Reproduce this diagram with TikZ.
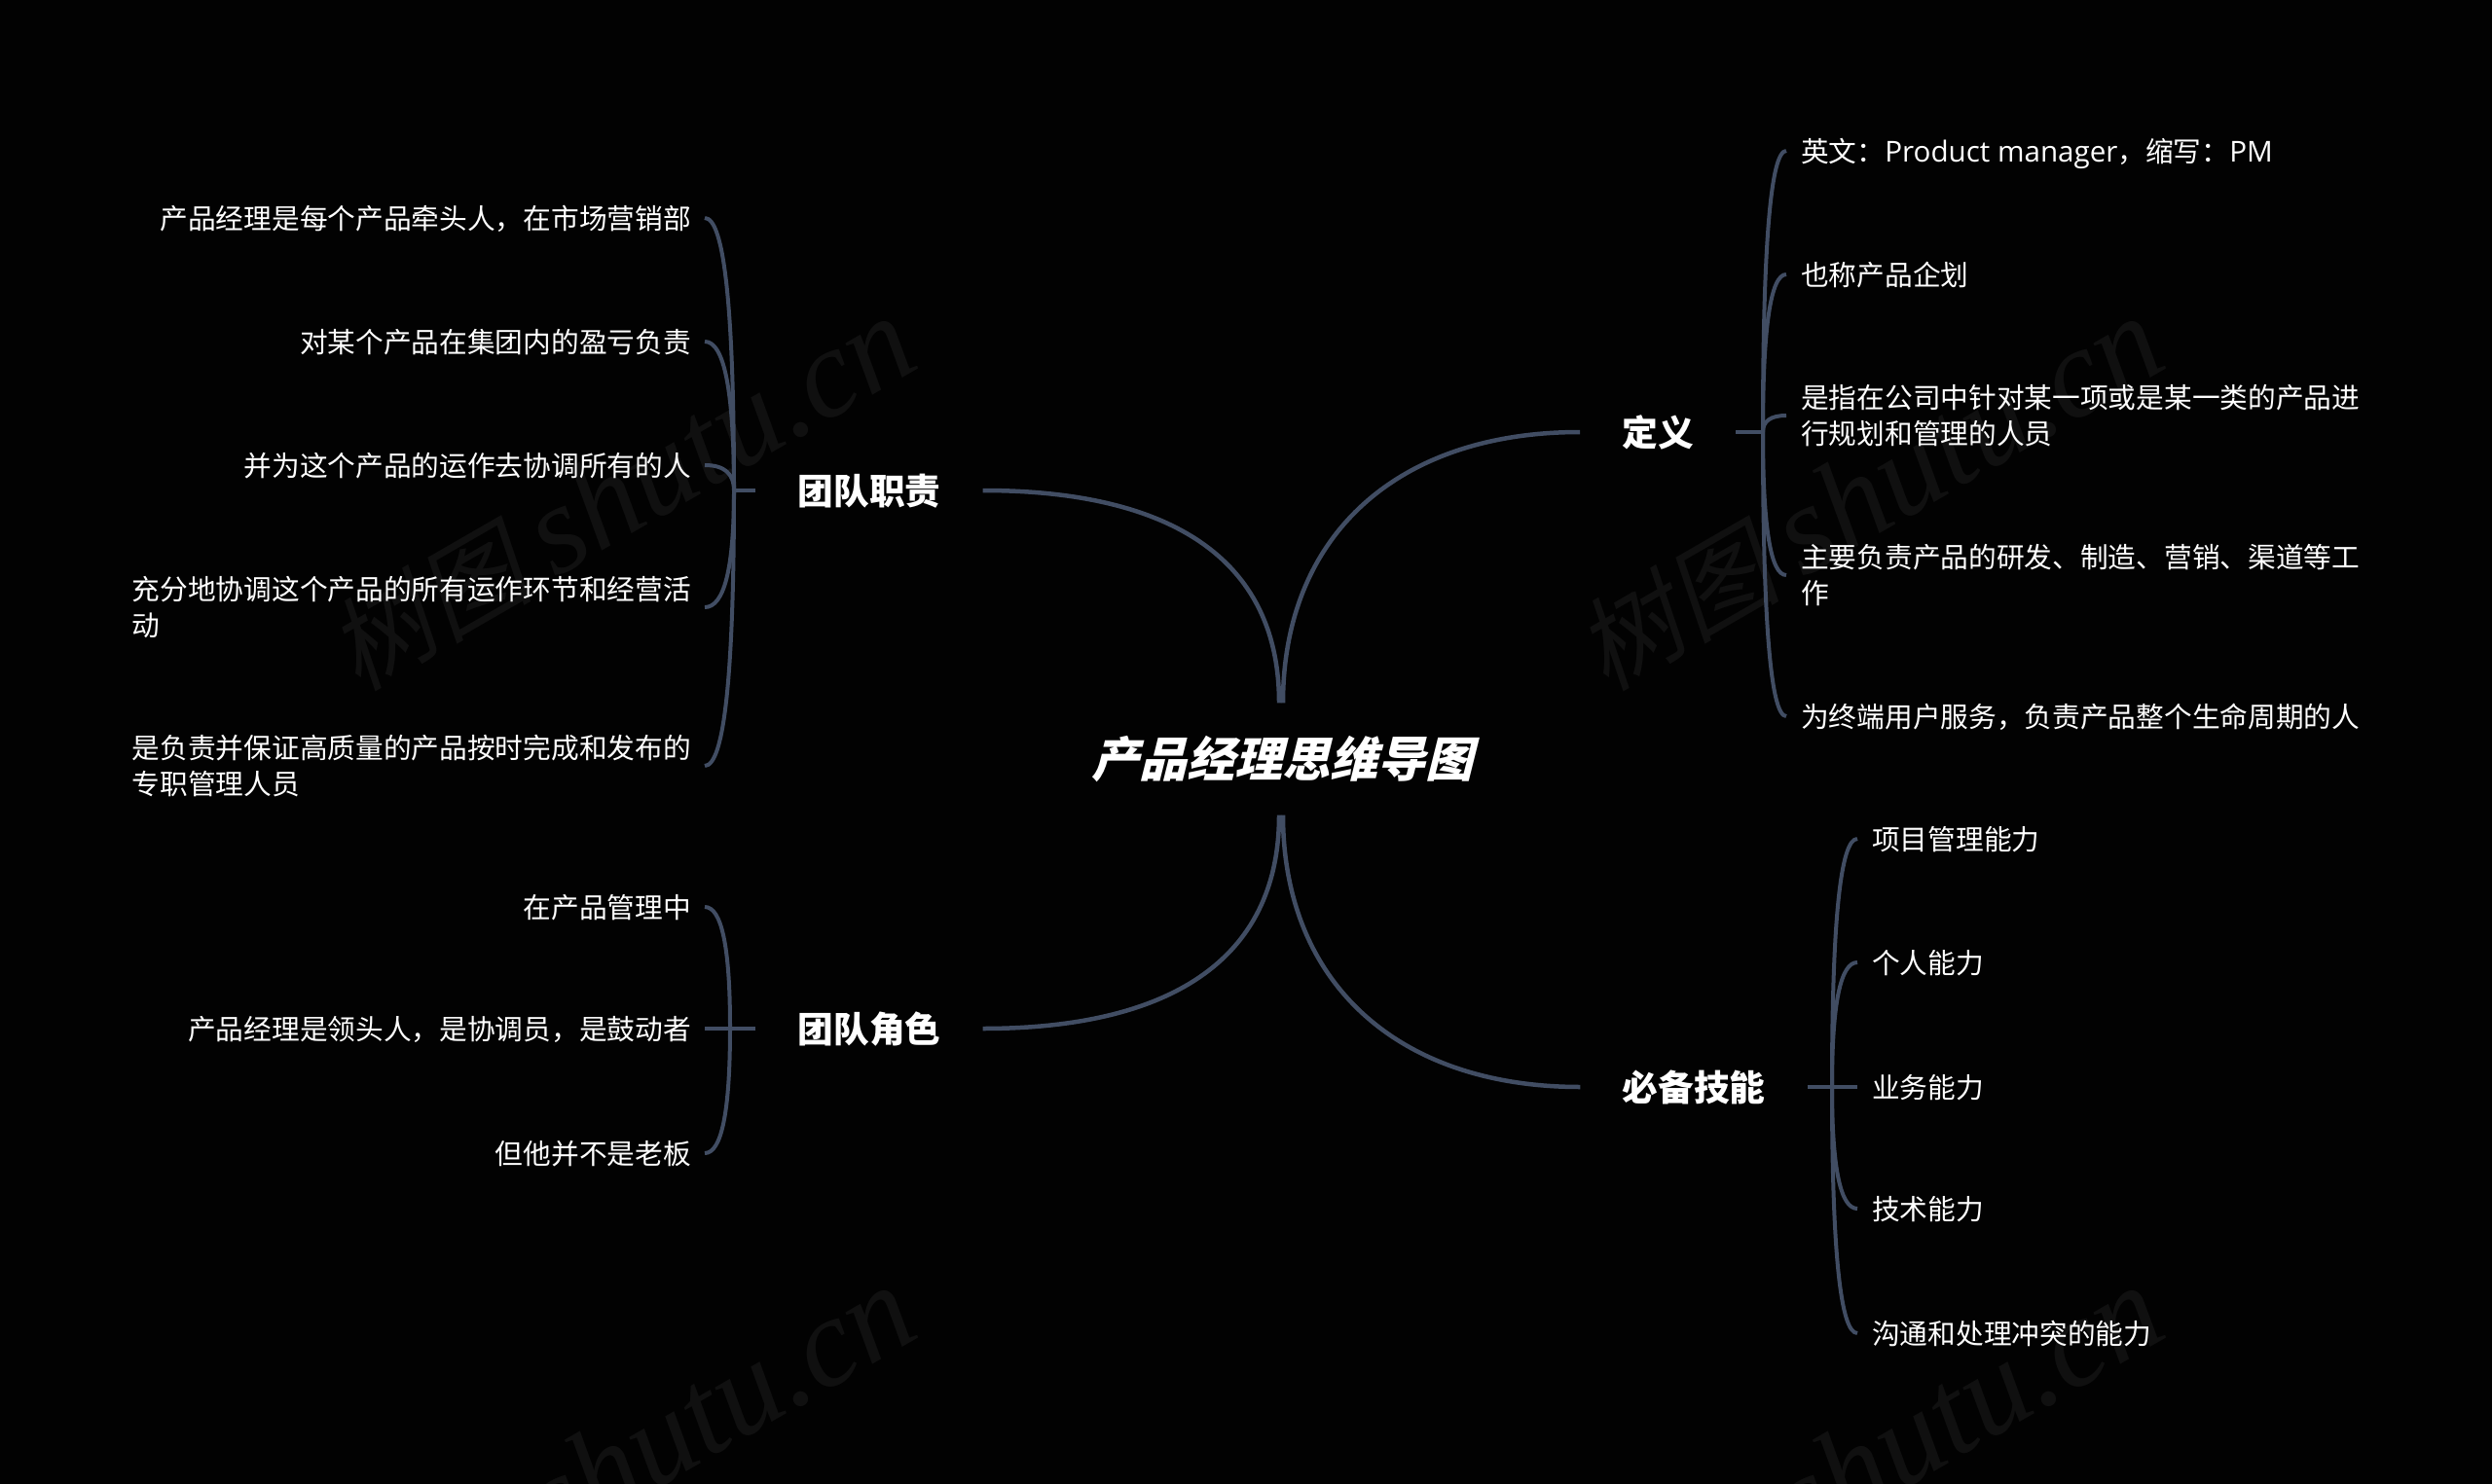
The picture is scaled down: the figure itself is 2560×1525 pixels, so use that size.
\documentclass[tikz,border=0pt]{standalone}
\usepackage{fontspec}
\setmainfont{Noto Sans CJK SC}
\newfontfamily\rootfont[FakeSlant=0.25]{Noto Sans CJK SC}
\newfontfamily\markfont[FakeSlant=0.2]{Noto Sans CJK SC}
\newfontfamily\marklatin{Liberation Serif}
\newfontfamily\leaflatin{Open Sans}
\usetikzlibrary{calc}
\usetikzlibrary{positioning}
\definecolor{pagebg}{HTML}{020202}
\definecolor{linkcol}{HTML}{414D63}
\definecolor{markcol}{HTML}{101010}
\newcommand{\leaflink}[2]{\draw[sublink] (#1) .. controls ($(#1)!.667!(#1 |- #2)$) and ($(#2)!.667!(#1 |- #2)$) .. (#2);}
\newcommand{\marktext}{树图 {\marklatin\itshape\fontsize{130}{130}\selectfont shutu.cn}}

\begin{document}
\begin{tikzpicture}[x=1pt,y=-1pt,
    every node/.style={text=white},
    rootnode/.style={font=\fontsize{49}{60}\rootfont\bfseries,minimum height=115pt,inner sep=0pt},
    branch/.style={font=\fontsize{36.7}{46}\selectfont\bfseries,inner xsep=43pt,inner ysep=4pt,text height=32pt,text depth=3pt},
    leafr/.style={anchor=west,align=left,font=\fontsize{28.7}{37}\selectfont,inner xsep=15pt,inner ysep=0pt},
    leafl/.style={anchor=east,align=left,font=\fontsize{28.7}{37}\selectfont,inner xsep=14pt,inner ysep=0pt},
    oneline/.style={text height=26pt,text depth=3pt},
    wmark/.style={text=markcol,rotate=30,font=\fontsize{105}{130}\markfont},
    rootlink/.style={draw=linkcol,line width=4.5pt},
    sublink/.style={draw=linkcol,line width=4pt}]
    \fill[pagebg] (0,0) rectangle (2560,1525);
    \useasboundingbox (0,0) rectangle (2560,1525);

    % watermarks
    \begin{scope}
    \clip (0,0) rectangle (2560,1525);
    \node[wmark] (mark a) at (638,508) {\marktext};
    \node[wmark] (mark b) at (1920,508) {\marktext};
    \node[wmark] (mark c) at (638,1504) {\marktext};
    \node[wmark] (mark d) at (1920,1504) {\marktext};
    \end{scope}

    % centre and branches
    \node[rootnode] (root) at (1316,780) {\hspace{2pt}产品经理思维导图};
    \node[branch] (define) at (1703,444) {定义};
    \node[branch] (skills) at (1740,1117) {必备技能};
    \node[branch] (duties) at (893,504) {团队职责};
    \node[branch] (roles) at (893,1057) {团队角色};

    \draw[rootlink] ([xshift=2pt]root.north) .. controls +(0,-170) and +(-190,0) .. (define.west);
    \draw[rootlink] ([xshift=2pt]root.south) .. controls +(0,170) and +(-190,0) .. (skills.west);
    \draw[rootlink] ([xshift=-2pt]root.north) .. controls +(0,-150) and +(190,0) .. (duties.east);
    \draw[rootlink] ([xshift=-2pt]root.south) .. controls +(0,150) and +(190,0) .. (roles.east);

    % define
    \coordinate (define hub) at (1811,444);
    \node[leafr,oneline] (define a) at (1835,155) {英文：{\leaflatin\fontsize{29.6}{37}\selectfont Product manager}，缩写：{\leaflatin\fontsize{29.6}{37}\selectfont PM}};
    \node[leafr,oneline] (define b) at (1835,282) {也称产品企划};
    \node[leafr] (define c) at (1835,427) {是指在公司中针对某一项或是某一类的产品进\\行规划和管理的人员};
    \node[leafr] (define d) at (1835,591) {主要负责产品的研发、制造、营销、渠道等工\\作};
    \node[leafr,oneline] (define e) at (1835,736) {为终端用户服务，负责产品整个生命周期的人};
    \draw[sublink] (define.east) -- (define hub);
    \leaflink{define hub}{define a.west}
    \leaflink{define hub}{define b.west}
    \leaflink{define hub}{define c.west}
    \leaflink{define hub}{define d.west}
    \leaflink{define hub}{define e.west}

    % skills
    \coordinate (skills hub) at (1882,1117);
    \node[leafr,oneline] (skills a) at (1908,862) {项目管理能力};
    \node[leafr,oneline] (skills b) at (1908,989) {个人能力};
    \node[leafr,oneline] (skills c) at (1908,1117) {业务能力};
    \node[leafr,oneline] (skills d) at (1908,1242) {技术能力};
    \node[leafr,oneline] (skills e) at (1908,1370) {沟通和处理冲突的能力};
    \draw[sublink] (skills.east) -- (skills hub);
    \leaflink{skills hub}{skills a.west}
    \leaflink{skills hub}{skills b.west}
    \draw[sublink] (skills hub) -- (skills c.west);
    \leaflink{skills hub}{skills d.west}
    \leaflink{skills hub}{skills e.west}

    % duties
    \coordinate (duties hub) at (754,504);
    \node[leafl,oneline] (duties a) at (724,224) {产品经理是每个产品牵头人，在市场营销部};
    \node[leafl,oneline] (duties b) at (724,351) {对某个产品在集团内的盈亏负责};
    \node[leafl,oneline] (duties c) at (724,478) {并为这个产品的运作去协调所有的人};
    \node[leafl] (duties d) at (724,624) {充分地协调这个产品的所有运作环节和经营活\\动};
    \node[leafl] (duties e) at (724,787) {是负责并保证高质量的产品按时完成和发布的\\专职管理人员};
    \draw[sublink] (duties.west) -- (duties hub);
    \leaflink{duties hub}{duties a.east}
    \leaflink{duties hub}{duties b.east}
    \leaflink{duties hub}{duties c.east}
    \leaflink{duties hub}{duties d.east}
    \leaflink{duties hub}{duties e.east}

    % roles
    \coordinate (roles hub) at (750,1056);
    \node[leafl,oneline] (roles a) at (724,932) {在产品管理中};
    \node[leafl,oneline] (roles b) at (724,1057) {产品经理是领头人，是协调员，是鼓动者};
    \node[leafl,oneline] (roles c) at (724,1185) {但他并不是老板};
    \draw[sublink] (roles.west) -- (roles b.east);
    \leaflink{roles hub}{roles a.east}
    \leaflink{roles hub}{roles c.east}
\end{tikzpicture}
\end{document}
